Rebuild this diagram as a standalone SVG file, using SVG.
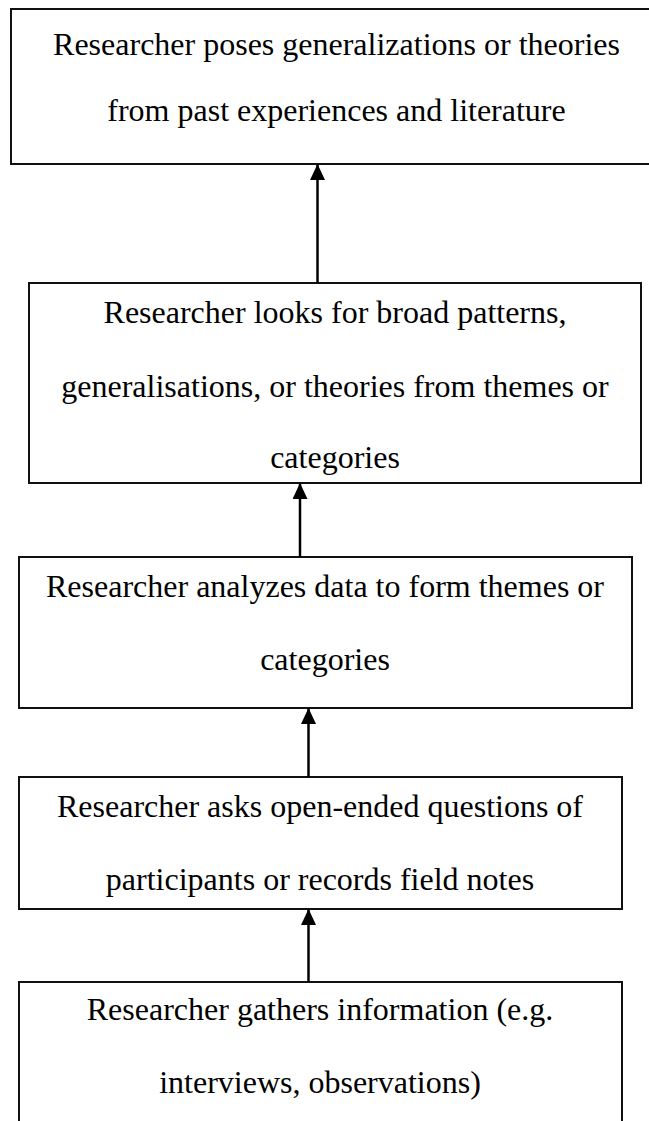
<svg xmlns="http://www.w3.org/2000/svg" width="649" height="1121" viewBox="0 0 649 1121">
<style>
.box{fill:#fff;stroke:#111;stroke-width:2}
.t{font-family:"Liberation Serif","Times New Roman",serif;font-size:32px;fill:#000;text-anchor:middle}
.c{stroke:#000;stroke-width:2.5;fill:none}
</style>
<defs>
<marker id="ah" markerWidth="16" markerHeight="15" refX="15" refY="7.5" orient="auto" markerUnits="userSpaceOnUse" viewBox="0 0 16 15">
<path d="M0,0 L16,7.5 L0,15 Z" fill="#000"/>
</marker>
</defs>
<g id="node1">
<rect class="box" x="11" y="9" width="651" height="155"/>
<text class="t" x="336.5" y="55">Researcher poses generalizations or theories</text>
<text class="t" x="336.5" y="121">from past experiences and literature</text>
</g>
<g id="node2">
<rect class="box" x="29" y="283" width="612" height="200"/>
<text class="t" x="335" y="323">Researcher looks for broad patterns,</text>
<text class="t" x="335" y="397">generalisations, or theories from themes or</text>
<text class="t" x="335" y="468">categories</text>
</g>
<g id="node3">
<rect class="box" x="19" y="557" width="613" height="151"/>
<text class="t" x="325" y="597">Researcher analyzes data to form themes or</text>
<text class="t" x="325" y="670">categories</text>
</g>
<g id="node4">
<rect class="box" x="19" y="777" width="603" height="132"/>
<text class="t" x="320" y="817">Researcher asks open-ended questions of</text>
<text class="t" x="320" y="890">participants or records field notes</text>
</g>
<g id="node5">
<rect class="box" x="19" y="982" width="603" height="160"/>
<text class="t" x="320" y="1020">Researcher gathers information (e.g.</text>
<text class="t" x="320" y="1093">interviews, observations)</text>
</g>
<g id="connectors">
<line class="c" x1="317.5" y1="283" x2="317.5" y2="165" marker-end="url(#ah)"/>
<line class="c" x1="300" y1="557" x2="300" y2="484" marker-end="url(#ah)"/>
<line class="c" x1="308.5" y1="777" x2="308.5" y2="709" marker-end="url(#ah)"/>
<line class="c" x1="308.5" y1="982" x2="308.5" y2="910" marker-end="url(#ah)"/>
</g>
</svg>
